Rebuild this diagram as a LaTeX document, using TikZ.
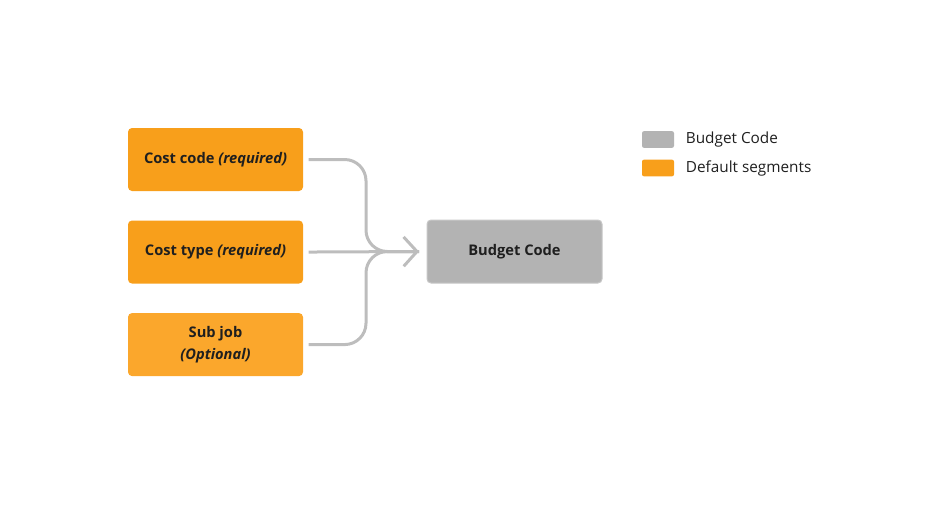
\documentclass[tikz,border=0pt]{standalone}
\usepackage{fontspec}
\setmainfont{Open Sans}
\usetikzlibrary{positioning, arrows.meta}
\definecolor{segorange}{HTML}{F89F1B}
\definecolor{subjoborange}{HTML}{FBA72C}
\definecolor{budgetgray}{HTML}{B3B3B3}
\definecolor{linkgray}{HTML}{BDBDBD}
\definecolor{textdark}{HTML}{1F1F1F}
\tikzset{
  segment/.style={fill=segorange, rounded corners=3pt, minimum width=131.25pt,
    minimum height=47.25pt, inner sep=0pt, align=center, text=textdark,
    font=\fontsize{11}{17}\selectfont\bfseries},
  link/.style={draw=linkgray, line width=2.25pt, rounded corners=16pt},
  legendkey/.style={minimum width=24pt, minimum height=12.5pt, inner sep=0pt, rounded corners=1.5pt},
  legendtext/.style={right, font=\fontsize{11.5}{14}\selectfont, text=textdark, inner sep=0pt}
}
\begin{document}
\begin{tikzpicture}[x=0.75pt, y=-0.75pt]
  \useasboundingbox (0,0) rectangle (944,504);
  % segments
  \node[segment] (ccode) at (215.5,159.5) {Cost code \textit{(required)}};
  \node[segment] (ctype) [below=21.75pt of ccode] {Cost type \textit{(required)}};
  \node[segment, fill=subjoborange] (subjob) [below=21.75pt of ctype] {Sub job\\\textit{(Optional)}};
  \node[segment, fill=budgetgray, draw=black!22, line width=0.75pt] (budget) at (514.5,251.5) {Budget Code};
  % links
  \coordinate (merge) at (366,251.5);
  \coordinate (tip) at (419,251.5);
  \draw[link] ([xshift=4pt]ccode.east) -| (merge) -- (tip);
  \draw[link] ([xshift=4pt]subjob.east) -| (merge) -- (tip);
  \draw[link, -{Straight Barb[length=10pt, width=22pt, line width=2.25pt]}] ([xshift=4pt]ctype.east) -- (tip);
  % legend
  \node[legendkey, fill=budgetgray] (keybudget) at (658,139.5) {};
  \node[legendkey, fill=segorange] (keyseg) at (658,168) {};
  \node[legendtext] at ([xshift=8.5pt]keybudget.east) {Budget Code};
  \node[legendtext] at ([xshift=8.5pt]keyseg.east) {Default segments};
\end{tikzpicture}
\end{document}
